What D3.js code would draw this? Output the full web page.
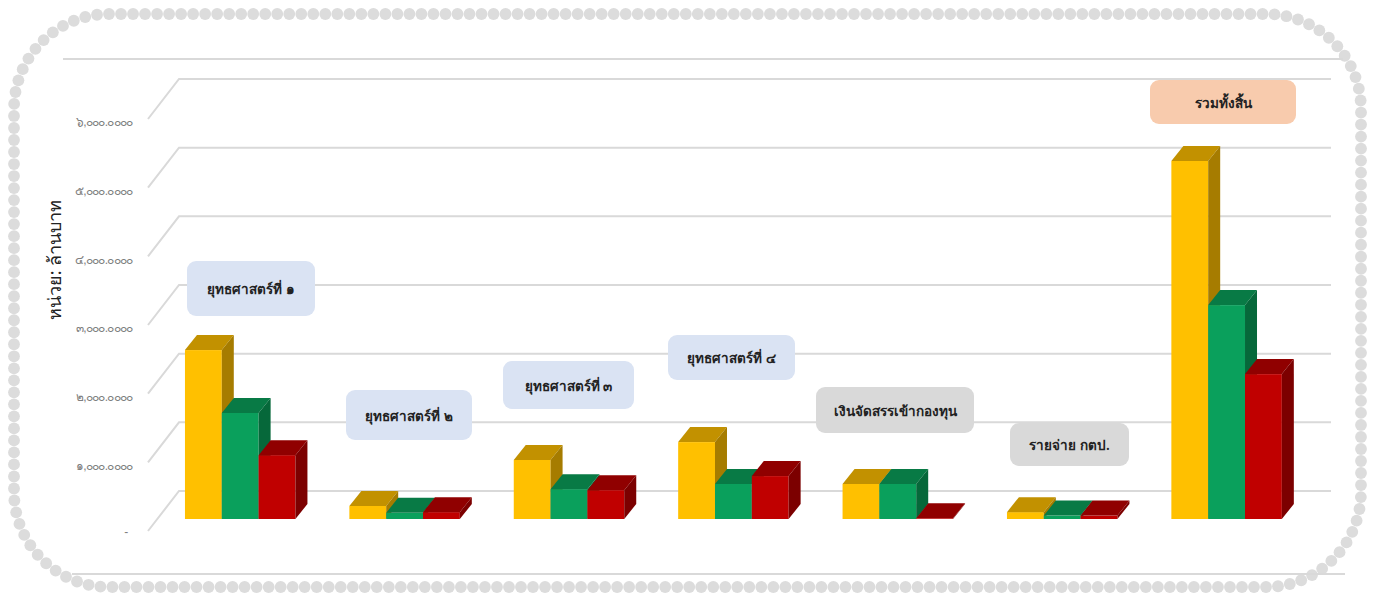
<!DOCTYPE html>
<html>
<head>
<meta charset="utf-8">
<script src="https://cdn.jsdelivr.net/npm/d3@7"></script>
<style>
    body { margin: 0; background: #fff; font-family: "Noto Sans", "Noto Sans CJK SC", sans-serif; }
    svg { display: block; }
</style>
</head>
<body>
<svg id="chart"></svg>
<script>
const categories = ['ยุทธศาสตร์ที่ ๑', 'ยุทธศาสตร์ที่ ๒', 'ยุทธศาสตร์ที่ ๓', 'ยุทธศาสตร์ที่ ๔', 'เงินจัดสรรเข้ากองทุน', 'รายจ่าย กตป.', 'รวมทั้งสิ้น'];
const seriesYellow = [2460, 190, 860, 1120, 510, 100, 5215];
const seriesGreen = [1545, 90, 435, 510, 510, 50, 3115];
const seriesRed = [930, 100, 420, 625, 10, 50, 2110];
const tickValues = [0, 1000, 2000, 3000, 4000, 5000, 6000];
const unitTitle = 'หน่วย: ล้านบาท';

const w = 1378;
const h = 594;

const svg = d3.select('#chart').attr('width', w).attr('height', h);

// Dotted rounded frame
const frame = { x: 14, y: 14, w: 1347, h: 573, r: 95 };
const framePath = svg.append('path')
    .attr('fill', 'none')
    .attr('d', `M${frame.x + frame.r},${frame.y}H${frame.x + frame.w - frame.r}A${frame.r},${frame.r} 0 0 1 ${frame.x + frame.w},${frame.y + frame.r}V${frame.y + frame.h - frame.r}A${frame.r},${frame.r} 0 0 1 ${frame.x + frame.w - frame.r},${frame.y + frame.h}H${frame.x + frame.r}A${frame.r},${frame.r} 0 0 1 ${frame.x},${frame.y + frame.h - frame.r}V${frame.y + frame.r}A${frame.r},${frame.r} 0 0 1 ${frame.x + frame.r},${frame.y}Z`);
const frameLen = framePath.node().getTotalLength();
const dotCount = Math.round(frameLen / 12);
svg.append('g').selectAll('circle')
    .data(d3.range(dotCount))
    .enter().append('circle')
    .attr('cx', d => framePath.node().getPointAtLength(d * frameLen / dotCount).x)
    .attr('cy', d => framePath.node().getPointAtLength(d * frameLen / dotCount).y)
    .attr('r', 5.9)
    .attr('fill', '#dcdcdc');

// Chart border lines
svg.append('line').attr('x1', 63).attr('x2', 1343).attr('y1', 59).attr('y2', 59).attr('stroke', '#d9d9d9').attr('stroke-width', 2);
svg.append('line').attr('x1', 72).attr('x2', 1345).attr('y1', 574).attr('y2', 574).attr('stroke', '#d9d9d9').attr('stroke-width', 2);

// Scales
const wallFrontX = 148;
const wallBackX = 179;
const plotRight = 1331;
const wallDepth = { dx: wallBackX - wallFrontX, dy: -40 };
const barDepth = { dx: 12, dy: -15 };

const scaleYFront = d3.scaleLinear().domain([0, 6000]).range([531, 119]);
const scaleYBar = d3.scaleLinear().domain([0, 6000]).range([519, 107]);

const scaleX = d3.scaleBand()
    .domain(categories)
    .range([158, 1308.8])
    .paddingInner(0.328)
    .paddingOuter(0.164);

const seriesList = [
    { values: seriesYellow, front: '#ffc000', top: '#c29100', side: '#a67c00' },
    { values: seriesGreen, front: '#0aa05c', top: '#087a45', side: '#06683a' },
    { values: seriesRed, front: '#c00000', top: '#900000', side: '#7c0000' }
];

const scaleSeries = d3.scaleBand().domain(d3.range(seriesList.length)).range([0, scaleX.bandwidth()]);

// Grid
const grid = svg.append('g').attr('fill', 'none').attr('stroke', '#d9d9d9').attr('stroke-width', 2);
grid.selectAll('path')
    .data(tickValues)
    .enter().append('path')
    .attr('d', d => {
        const y = scaleYFront(d);
        return `M${wallFrontX},${y}L${wallBackX},${y + wallDepth.dy}H${plotRight}`;
    });

// Axis labels
const thaiDigits = '๐๑๒๓๔๕๖๗๘๙';
const toThai = s => s.replace(/\d/g, c => thaiDigits[+c]);
const yAxis = d3.axisLeft(scaleYFront)
    .tickValues(tickValues)
    .tickSize(0)
    .tickFormat(d => d === 0 ? '-' : toThai(d3.format(',.4f')(d)));

const axisG = svg.append('g')
    .attr('transform', 'translate(135.5, 3)')
    .call(yAxis);
axisG.select('.domain').remove();
axisG.selectAll('text')
    .attr('fill', '#7f7f7f')
    .attr('dx', d => d === 0 ? -5 : 0)
    .attr('dy', d => d === 0 ? '0.1em' : '0.32em')
    .style('font-size', '12px')
    .style('letter-spacing', '-0.7px');

svg.append('text')
    .attr('transform', 'translate(56, 260) rotate(-90)')
    .attr('text-anchor', 'middle')
    .attr('dominant-baseline', 'middle')
    .attr('fill', '#222')
    .style('font-size', '18px')
    .text(unitTitle);

// Bars
seriesList.forEach((series, si) => {
    const bars = svg.append('g').selectAll('g')
        .data(categories.map((c, i) => ({ c, v: series.values[i] })))
        .enter().append('g');

    const x0 = d => scaleX(d.c) + scaleSeries(si);
    const bw = scaleSeries.bandwidth();

    bars.append('rect')
        .attr('x', x0)
        .attr('y', d => scaleYBar(d.v))
        .attr('width', bw)
        .attr('height', d => scaleYBar(0) - scaleYBar(d.v))
        .attr('fill', series.front);

    bars.append('path')
        .attr('fill', series.top)
        .attr('d', d => {
            const x = x0(d);
            const y = scaleYBar(d.v);
            return `M${x},${y}l${barDepth.dx},${barDepth.dy}h${bw}l${-barDepth.dx},${-barDepth.dy}Z`;
        });

    bars.append('path')
        .attr('fill', series.side)
        .attr('d', d => {
            const x = x0(d) + bw;
            const y = scaleYBar(d.v);
            return `M${x},${y}l${barDepth.dx},${barDepth.dy}V${scaleYBar(0) + barDepth.dy}L${x},${scaleYBar(0)}Z`;
        });
});

// Callout boxes
const boxLayout = [
    { x: 187, y: 261, w: 128, h: 55, fill: '#dae3f3' },
    { x: 346, y: 390, w: 126, h: 50, fill: '#dae3f3' },
    { x: 503, y: 361, w: 131, h: 48, fill: '#dae3f3' },
    { x: 668, y: 335, w: 127, h: 45, fill: '#dae3f3' },
    { x: 816, y: 387, w: 158, h: 46, fill: '#d9d9d9' },
    { x: 1010, y: 423, w: 119, h: 43, fill: '#d9d9d9' },
    { x: 1150, y: 80, w: 146, h: 44, fill: '#f8cbad' }
];

const boxes = svg.append('g').selectAll('g')
    .data(categories)
    .enter().append('g')
    .attr('transform', (d, i) => `translate(${boxLayout[i].x}, ${boxLayout[i].y})`);

boxes.append('rect')
    .attr('width', (d, i) => boxLayout[i].w)
    .attr('height', (d, i) => boxLayout[i].h)
    .attr('rx', 9)
    .attr('fill', (d, i) => boxLayout[i].fill);

boxes.append('text')
    .attr('x', (d, i) => boxLayout[i].w / 2)
    .attr('y', (d, i) => boxLayout[i].h / 2 + 2)
    .attr('text-anchor', 'middle')
    .attr('dominant-baseline', 'middle')
    .attr('fill', '#222')
    .style('font-size', '13.5px')
    .style('font-weight', '600')
    .text(d => d);
</script>
</body>
</html>
